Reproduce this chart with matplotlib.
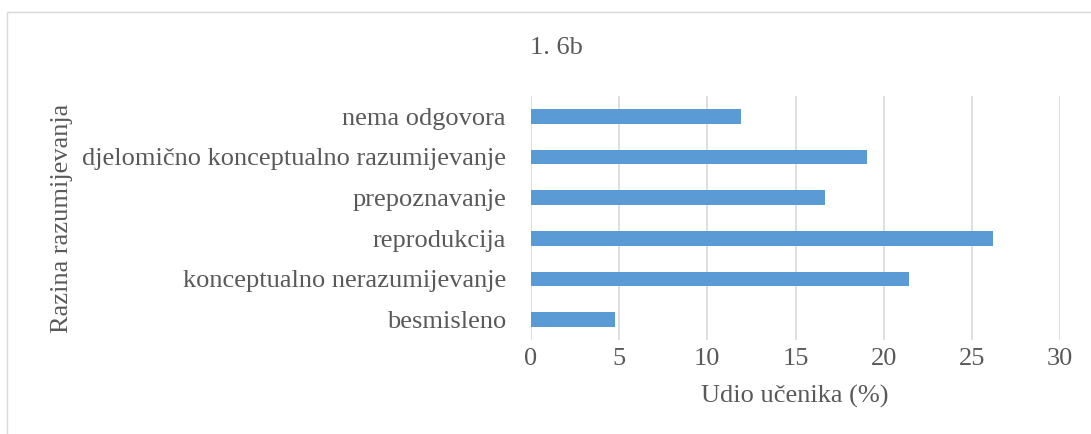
import matplotlib
matplotlib.use("Agg")
import matplotlib.pyplot as plt
from matplotlib.patches import Rectangle

categories = ["besmisleno", "konceptualno nerazumijevanje", "reprodukcija",
              "prepoznavanje", "djelomično konceptualno razumijevanje", "nema odgovora"]
values = [4.76, 21.43, 26.19, 16.67, 19.05, 11.90]
xticks = [0, 5, 10, 15, 20, 25, 30]
title = "1. 6b"
xlabel = "Udio učenika (%)"
ylabel = "Razina razumijevanja"

plt.rcParams['font.family'] = ['Liberation Serif', 'DejaVu Serif']
text_color = "#595959"
fs = 19

fig = plt.figure(figsize=(10.91, 4.34), dpi=100)
ax = fig.add_axes([0.4867, 0.2166, 0.9716 - 0.4867, 0.7788 - 0.2166])

ax.barh(range(len(categories)), values, height=0.36, color="#5B9BD5", zorder=3)
ax.set_xlim(0, 30)
ax.set_ylim(-0.5, len(categories) - 0.5)
ax.set_xticks(xticks)
ax.set_xticklabels([str(t) for t in xticks], fontsize=fs, color=text_color)
ax.set_yticks(range(len(categories)))
ax.set_yticklabels(categories, fontsize=fs, color=text_color)
ax.tick_params(axis='both', length=0)
ax.tick_params(axis='x', pad=6)
ax.tick_params(axis='y', pad=18)
ax.grid(axis='x', color="#D9D9D9", linewidth=1.2, zorder=0)
for s in ax.spines.values():
    s.set_visible(False)

fig.text(795 / 1091, 1 - 396 / 434, xlabel, fontsize=fs, color=text_color,
         ha='center', va='center')
fig.text(62 / 1091, 1 - 218 / 434, ylabel, rotation=90, fontsize=fs, color=text_color,
         ha='center', va='center')
fig.text(556 / 1091, 1 - 48 / 434, title, fontsize=fs, color=text_color,
         ha='center', va='center')

fig.patches.append(Rectangle((7 / 1091, -0.1), 1.2, 1 - 12 / 434 + 0.1,
                             transform=fig.transFigure, fill=False,
                             edgecolor="#D9D9D9", linewidth=1))

fig.savefig("out.png", dpi=100)
